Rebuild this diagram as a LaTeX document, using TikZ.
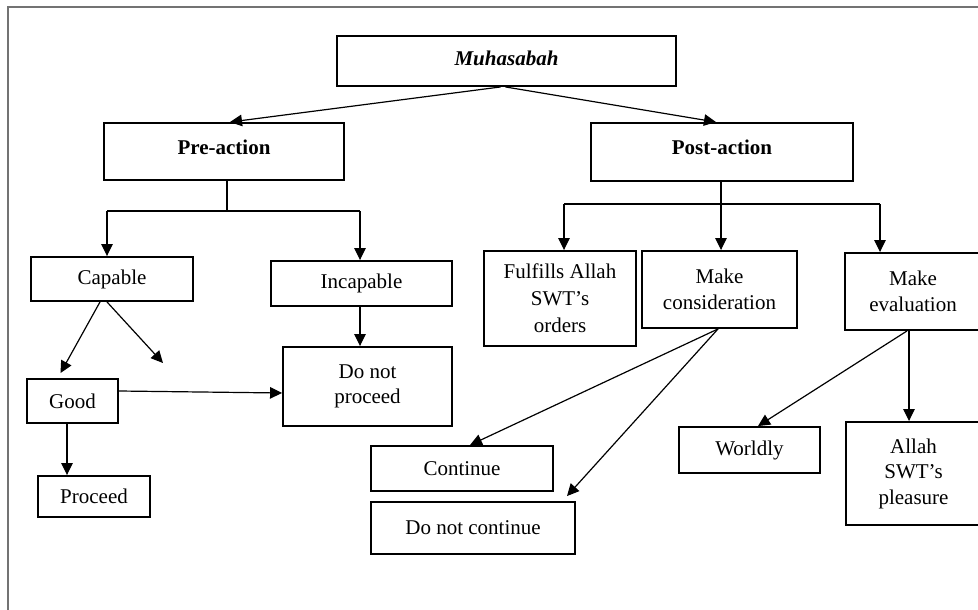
\documentclass[tikz,border=0pt]{standalone}
\usepackage{fontspec}
\setmainfont{Liberation Serif}
\usetikzlibrary{arrows.meta}
\begin{document}
\begin{tikzpicture}[x=1pt,y=-1pt,
  box/.style={draw, line width=1.9pt, inner sep=0pt, align=center,
    font=\fontsize{21}{25.5}\selectfont},
  arr/.style={-{Triangle[length=12pt,width=11.5pt]}, line width=1.2pt},
  conn/.style={line width=1.2pt},
  frame/.style={draw=black!55, line width=1.6pt}]
\clip (0,0) rectangle (978,610);
% outer frame (left and top)
\draw[frame] (8,610) -- (8,7) -- (978,7);
% boxes
\node[box, minimum width=339pt, minimum height=50pt, text depth=6pt] (muh) at (506.5,61) {\textbf{\textit{Muhasabah}}};
\node[box, minimum width=240pt, minimum height=57pt, text depth=8pt] (pre) at (224,151.5) {\textbf{Pre-action}};
\node[box, minimum width=262pt, minimum height=58pt, text depth=10pt] (post) at (722,152) {\textbf{Post-action}};
\node[box, minimum width=162pt, minimum height=44pt] (cap) at (112,279) {Capable};
\node[box, minimum width=181pt, minimum height=45pt] (incap) at (361.5,283.5) {Incapable};
\node[box, minimum width=169pt, minimum height=79pt] (dnp) at (367.5,386.5) {Do not\\proceed};
\node[box, minimum width=91pt, minimum height=44pt] (good) at (72.5,401) {Good};
\node[box, minimum width=112pt, minimum height=41pt] (proc) at (94,496.5) {Proceed};
\node[box, minimum width=182pt, minimum height=45pt] (cont) at (462,468.5) {Continue};
\node[box, minimum width=204pt, minimum height=52pt] (dnc) at (473,528) {Do not continue};
\node[box, minimum width=152pt, minimum height=95pt, font=\fontsize{21}{27}\selectfont] (fulf) at (560,298.5) {Fulfills Allah\\SWT's\\orders};
\node[box, minimum width=155pt, minimum height=77pt] (mcons) at (719.5,289.5) {Make\\consideration};
\node[box, minimum width=136pt, minimum height=77pt] (meval) at (913,291.5) {Make\\evaluation};
\node[box, minimum width=141pt, minimum height=46pt] (world) at (749.5,450) {Worldly};
\node[box, minimum width=135pt, minimum height=103pt] (allah) at (913.5,473.5) {Allah\\SWT's\\pleasure};
% top connectors
\draw[arr] ([xshift=-6pt]muh.south) -- ([xshift=6pt]pre.north);
\draw[arr] ([xshift=-1pt]muh.south) -- ([xshift=-6pt]post.north);
% pre-action branch
\coordinate (pj) at (227,211);
\coordinate (pl) at (107,211);
\coordinate (pr) at (360,211);
\draw[conn] ([xshift=3pt]pre.south) -- (pj);
\draw[conn] (pl) -- (pr);
\draw[arr] (pl) -- (pl |- cap.north);
\draw[arr] (pr) -- (pr |- incap.north);
% post-action branch
\coordinate (ql) at (564,204);
\coordinate (qm) at (721,204);
\coordinate (qr) at (880,204);
\draw[conn] (post.south -| qm) -- (qm);
\draw[conn] (ql) -- (qr);
\draw[arr] (ql) -- (ql |- fulf.north);
\draw[arr] (qm) -- (qm |- mcons.north);
\draw[arr] (qr) -- (qr |- meval.north);
% lower connectors
\draw[arr] ([xshift=-1.5pt]incap.south) -- ([xshift=-1.5pt]incap.south |- dnp.north);
\draw[arr] ([xshift=-12pt]cap.south) -- ([xshift=-12pt,yshift=5pt]good.north);
\coordinate (cfree) at (163,363);
\draw[arr] ([xshift=-5pt]cap.south) -- (cfree);
\draw[arr] ([yshift=10pt]good.east) -- ([yshift=-6.5pt]dnp.west);
\draw[arr] ([xshift=-5.5pt]good.south) -- ([xshift=-5.5pt]good.south |- proc.north);
\draw[arr] ([xshift=-1.5pt]mcons.south) -- ([xshift=8pt]cont.north);
\draw[arr] ([xshift=-1.5pt]mcons.south) -- ([xshift=94pt,yshift=5pt]dnc.north);
\draw[arr] ([xshift=-6pt]meval.south) -- ([xshift=8.5pt]world.north);
\draw[arr] ([xshift=-4pt]meval.south) -- ([xshift=-4pt]meval.south |- allah.north);
\end{tikzpicture}
\end{document}
